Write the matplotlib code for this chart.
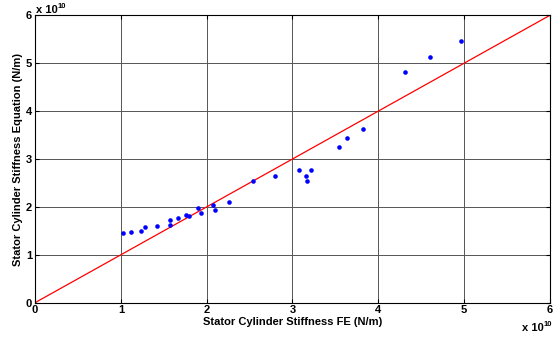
import matplotlib
matplotlib.use("Agg")
import matplotlib.pyplot as plt

# stiffness values, in units of 1e10 N/m
fe_stiffness = [1.02, 1.12, 1.23, 1.28, 1.42, 1.57, 1.57, 1.67, 1.76, 1.80,
                1.90, 1.94, 2.07, 2.10, 2.26, 2.54, 2.80, 3.08, 3.16, 3.17,
                3.22, 3.54, 3.64, 3.82, 4.31, 4.60, 4.96]
eq_stiffness = [1.46, 1.48, 1.49, 1.58, 1.60, 1.72, 1.63, 1.76, 1.83, 1.80,
                1.98, 1.87, 2.04, 1.93, 2.10, 2.54, 2.65, 2.77, 2.65, 2.54,
                2.77, 3.26, 3.44, 3.62, 4.81, 5.14, 5.47]
ref_x = [0, 6]
ref_y = [0, 6]
ticks = [0, 1, 2, 3, 4, 5, 6]

plt.rcParams["font.family"] = ["Liberation Sans", "DejaVu Sans"]
plt.rcParams["font.weight"] = "bold"

fig = plt.figure(figsize=(5.6, 3.38), dpi=100, facecolor="white")
ax = fig.add_axes([0.0625, 0.1044, 0.9195, 0.8503])

ax.plot(ref_x, ref_y, color="#ff0000", lw=0.9, zorder=2)
ax.plot(fe_stiffness, eq_stiffness, "o", color="#0000ff", ms=3.3, mec="none", zorder=3)

ax.set_xlim(0, 6)
ax.set_ylim(0, 6)
ax.set_xticks(ticks)
ax.set_yticks(ticks)
ax.grid(True, color="#555555", lw=0.7)
ax.set_axisbelow(True)
ax.tick_params(direction="in", length=3, width=0.8, labelsize=8, pad=2,
               top=True, right=True)
for lab in ax.get_xticklabels() + ax.get_yticklabels():
    lab.set_fontweight("bold")
for sp in ax.spines.values():
    sp.set_linewidth(0.8)

ax.set_xlabel("Stator Cylinder Stiffness FE (N/m)", fontsize=8, fontweight="bold", labelpad=1)
ax.set_ylabel("Stator Cylinder Stiffness Equation (N/m)", fontsize=8, fontweight="bold", labelpad=2)

# exponent labels (MATLAB style)
def exp_label(x0, y0):
    fig.text(x0 / 560, 1 - y0 / 338, "x 10", fontsize=8, fontweight="bold", va="baseline")
    fig.text((x0 + 22) / 560, 1 - (y0 - 5) / 338, "10", fontsize=5.5, fontweight="bold", va="baseline")

exp_label(36, 13)
exp_label(522, 331)

fig.savefig("out.png", dpi=100, facecolor="white")
